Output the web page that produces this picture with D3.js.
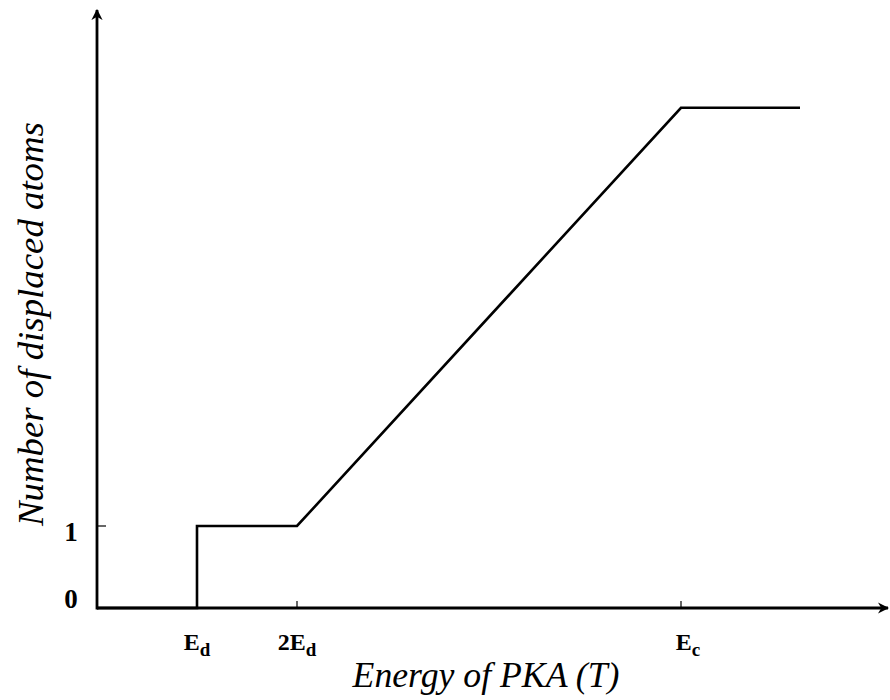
<!DOCTYPE html>
<html><head><meta charset="utf-8">
<script src="https://cdn.jsdelivr.net/npm/d3@7"></script>
<style>body{margin:0;background:#fff} text{font-family:"Liberation Serif","DejaVu Serif",serif}</style>
</head><body>
<svg id="c" width="890" height="700"></svg>
<script>
// Energy in units of Ed
const curveX = [0, 0.73, 1, 1, 2, 5.84, 7.03];
const curveY = [0, 0, 0, 1, 1, 6.1, 6.1];
const xTickVals = [1, 2, 5.84];
const xTickMain = ["E", "2E", "E"];
const xTickSub = ["d", "d", "c"];
const yTickVals = [0, 1];
const yTickLabels = ["0", "1"];
const xTitle = "Energy of PKA (T)";
const yTitle = "Number of displaced atoms";

const svg = d3.select("#c");
const x = d3.scaleLinear().domain([0, 7.91]).range([97, 888]);
const y = d3.scaleLinear().domain([0, 1]).range([608, 526]);

svg.append("defs").append("marker").attr("id","arr")
  .attr("viewBox","0 0 10 10").attr("refX",9).attr("refY",5)
  .attr("markerWidth",4).attr("markerHeight",4).attr("orient","auto")
  .append("path").attr("d","M0,0 L10,5 L0,10 L3,5 Z").attr("fill","#000");

svg.append("line").attr("x1", x(0)).attr("y1", y(0)).attr("x2", x(7.91)).attr("y2", y(0))
  .attr("stroke","#000").attr("stroke-width",2.8).attr("marker-end","url(#arr)");
svg.append("line").attr("x1", x(0)).attr("y1", y(0)+1.4).attr("x2", x(0)).attr("y2", 10)
  .attr("stroke","#000").attr("stroke-width",2.8).attr("marker-end","url(#arr)");

svg.selectAll(".xt").data(xTickVals).enter().append("line")
  .attr("x1", d=>x(d)).attr("x2", d=>x(d)).attr("y1", y(0)).attr("y2", y(0)-7)
  .attr("stroke","#000").attr("stroke-width",1.2);
svg.selectAll(".yt").data([1]).enter().append("line")
  .attr("x1", x(0)).attr("x2", x(0)+9).attr("y1", d=>y(d)).attr("y2", d=>y(d))
  .attr("stroke","#000").attr("stroke-width",1.2);

svg.append("path").datum(curveX.map((v,i)=>[v,curveY[i]]))
  .attr("d", d3.line().x(d=>x(d[0])).y(d=>y(d[1])))
  .attr("fill","none").attr("stroke","#000").attr("stroke-width",2.6).attr("stroke-linejoin","miter");

xTickVals.forEach((v,i)=>{
  const t = svg.append("text").attr("x", x(v)).attr("dx", i===2 ? 7 : 0).attr("y", 650)
    .attr("text-anchor","middle")
    .style("font-weight","bold").style("font-size","24px");
  t.append("tspan").text(xTickMain[i]);
  t.append("tspan").attr("dy",6).style("font-size","19px").text(xTickSub[i]);
});

yTickVals.forEach((v,i)=>{
  svg.append("text").attr("x", 71).attr("y", v===0 ? 608 : 541)
    .attr("text-anchor","middle")
    .style("font-weight","bold").style("font-size","27px").text(yTickLabels[i]);
});

function fit(sel, target){
  const w = sel.node().getComputedTextLength();
  const fs = parseFloat(sel.style("font-size"));
  sel.style("font-size", (fs*target/w)+"px");
}
const xt = svg.append("text").attr("x", 486).attr("y", 687).attr("text-anchor","middle")
  .style("font-style","italic").style("font-size","30px").text(xTitle);
fit(xt, 267);
const yt = svg.append("text").attr("transform","translate(43,324) rotate(-90)").attr("text-anchor","middle")
  .style("font-style","italic").style("font-size","30px").text(yTitle);
fit(yt, 404);
</script>
</body></html>
